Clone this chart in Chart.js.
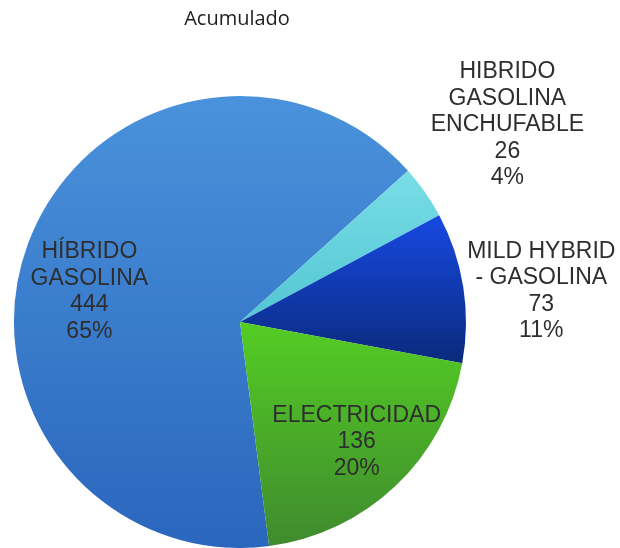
<!DOCTYPE html>
<html>
<head>
<meta charset="utf-8">
<script src="https://cdn.jsdelivr.net/npm/chart.js@4"></script>
<style>
  html, body { margin: 0; padding: 0; background: #fff; }
  #wrap { width: 620px; height: 548px; position: relative; }
</style>
</head>
<body>
<div id="wrap"><canvas id="pie"></canvas></div>
<script>
// datos
const categories = [
  ['HÍBRIDO', 'GASOLINA'],
  ['HIBRIDO', 'GASOLINA', 'ENCHUFABLE'],
  ['MILD HYBRID', '- GASOLINA'],
  ['ELECTRICIDAD']
];
const values = [444, 26, 73, 136];
const chartTitle = 'Acumulado';

// estilo
const topColors = ['#4a92db', '#79dde6', '#1649e2', '#54cd24'];
const bottomColors = ['#2a66bd', '#52c6d3', '#0b2a7c', '#3f8a2e'];
const labelFont = '23px "Liberation Sans", Arial, sans-serif';
// posicion de etiquetas: fraccion del radio y giro (grados) respecto al angulo medio
const labelRadius = [0.68, 1.47, 1.34, 0.74];
const labelTurn = [-8.9, -1.3, 3.0, -0.8];

const total = values.reduce((a, b) => a + b, 0);

const gradientPlugin = {
  id: 'sliceGradient',
  beforeDatasetsDraw(chart) {
    const ctx = chart.ctx;
    chart.getDatasetMeta(0).data.forEach((arc, i) => {
      const { x, y, startAngle, endAngle, outerRadius } = arc.getProps(['x', 'y', 'startAngle', 'endAngle', 'outerRadius'], true);
      let ys = [y, y + Math.sin(startAngle) * outerRadius, y + Math.sin(endAngle) * outerRadius];
      for (let k = -4; k <= 4; k++) {
        const a = Math.PI / 2 + k * Math.PI;
        if (a > startAngle && a < endAngle) ys.push(y + Math.sin(a) * outerRadius);
      }
      const g = ctx.createLinearGradient(0, Math.min(...ys), 0, Math.max(...ys));
      g.addColorStop(0, topColors[i]);
      g.addColorStop(1, bottomColors[i]);
      arc.options = Object.assign({}, arc.options, { backgroundColor: g });
    });
  },
  afterDatasetsDraw(chart) {
    const ctx = chart.ctx;
    ctx.save();
    ctx.fillStyle = '#2e2e2e';
    ctx.textAlign = 'center';
    ctx.textBaseline = 'middle';
    ctx.font = labelFont;
    chart.getDatasetMeta(0).data.forEach((arc, i) => {
      const { x, y, startAngle, endAngle, outerRadius } = arc.getProps(['x', 'y', 'startAngle', 'endAngle', 'outerRadius'], true);
      const mid = (startAngle + endAngle) / 2 + labelTurn[i] * Math.PI / 180;
      const cx = x + Math.cos(mid) * outerRadius * labelRadius[i];
      const cy = y + Math.sin(mid) * outerRadius * labelRadius[i];
      const lines = categories[i].concat([String(values[i]), Math.round(values[i] / total * 100) + '%']);
      const lh = 26.5;
      lines.forEach((t, j) => {
        ctx.fillText(t, cx, cy + (j - (lines.length - 1) / 2) * lh);
      });
    });
    // titulo
    ctx.fillStyle = '#1e1e1e';
    ctx.font = '20px "Open Sans"';
    ctx.textBaseline = 'alphabetic';
    ctx.fillText(chartTitle, 237, 25);
    ctx.restore();
  }
};

new Chart(document.getElementById('pie'), {
  type: 'pie',
  data: {
    labels: categories.map(c => c.join(' ')),
    datasets: [{
      data: values,
      backgroundColor: topColors,
      borderWidth: 0
    }]
  },
  options: {
    responsive: true,
    maintainAspectRatio: false,
    animation: false,
    rotation: 172.6,
    layout: { padding: { left: 14, right: 154, top: 96, bottom: 0 } },
    plugins: {
      legend: { display: false },
      title: { display: false },
      tooltip: { enabled: false }
    },
    events: []
  },
  plugins: [gradientPlugin]
});
</script>
</body>
</html>
